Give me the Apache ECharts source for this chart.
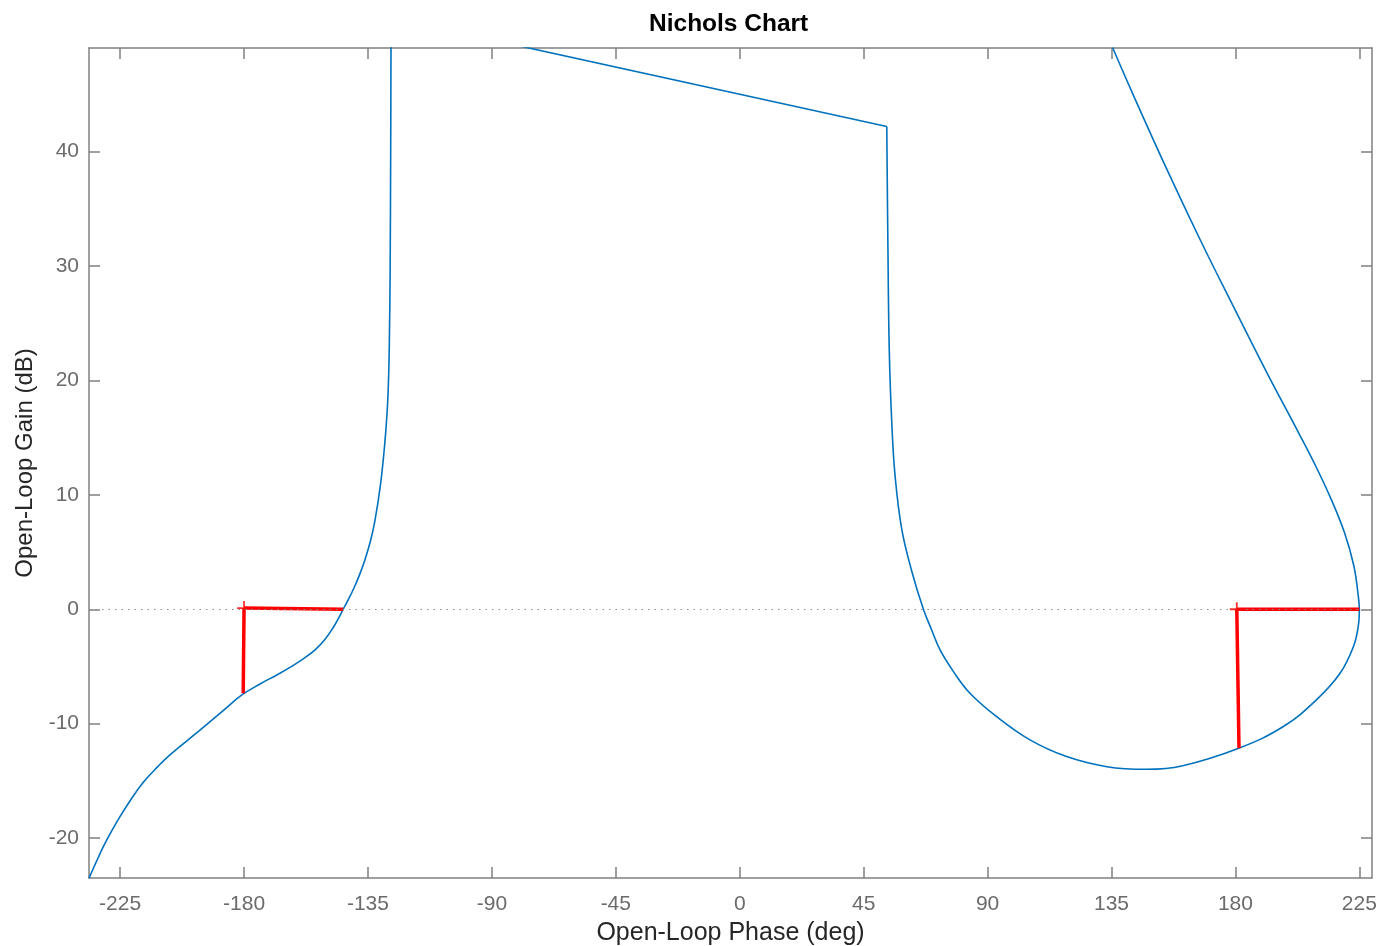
<!DOCTYPE html>
<html>
<head>
<meta charset="utf-8">
<title>Nichols Chart</title>
<script src="https://cdn.jsdelivr.net/npm/echarts@6/dist/echarts.min.js"></script>
<style>
  html, body { margin: 0; padding: 0; background: #fff; }
  #chart { width: 1390px; height: 946px; }
</style>
</head>
<body>
<div id="chart"></div>
<script>
  // [phase (deg), gain (dB)]
  var leftBranch = [
    [-236.3, -23.5], [-233.5, -22.0], [-231.1, -20.75], [-228, -19.35], [-225, -18.1],
    [-221, -16.6], [-216.5, -15.1], [-211.5, -13.8], [-206.8, -12.7], [-195.9, -10.55],
    [-188, -8.95], [-180.8, -7.49], [-174.2, -6.53], [-168.1, -5.74], [-162.1, -4.9],
    [-158, -4.25], [-154, -3.5], [-150.5, -2.6], [-147.5, -1.55], [-145.5, -0.7],
    [-144, 0], [-142, 0.9], [-140, 1.9], [-138, 3.05], [-136, 4.4],
    [-134, 6.05], [-132.5, 7.7], [-130.5, 10.8], [-129, 14.2], [-128, 17.4],
    [-127.5, 20.3], [-127.2, 23.9], [-126.95, 29.5], [-126.75, 40], [-126.6, 51.7]
  ];
  var crossLink = [[-126.6, 51.7], [53.4, 42.2]];
  var rightLoop = [
    [53.4, 42.2], [53.8, 32.0], [54.3, 22.7], [55.2, 16.4], [56.4, 11.7],
    [58.8, 7.05], [62.5, 3.3], [66.7, 0], [69.7, -1.81], [72.75, -3.56],
    [77.6, -5.45], [83.6, -7.34], [93.3, -9.39], [105.4, -11.42], [118.7, -12.88],
    [133.3, -13.76], [147.8, -13.99], [160.5, -13.7], [181.2, -12.15], [197.4, -10.25],
    [209.5, -7.9], [218.0, -5.6], [222.8, -3.3], [224.6, -1.5], [225.0, 0],
    [224.6, 1.2], [223.0, 3.8], [219.6, 6.7], [214.8, 9.6], [209.2, 12.5],
    [202.9, 15.45], [191.6, 20.6], [179.3, 26.45], [167.2, 32.3], [155.2, 38.4],
    [143.0, 44.9], [135.4, 49.1]
  ];
  var gainMarginA = [[-180, 0.1], [-180.3, -7.35]];
  var phaseMarginA = [[-180, 0.1], [-144, 0]];
  var gainMarginB = [[180.5, 0], [181.3, -12.15]];
  var phaseMarginB = [[180.5, 0], [225, 0]];
  var marginCrosses = [[-180, 0.1], [180.5, 0]];

  var phaseTicks = [-225, -180, -135, -90, -45, 0, 45, 90, 135, 180, 225];
  var gainTicks = [-20, -10, 0, 10, 20, 30, 40];
  var phaseMin = -236.3, phaseMax = 229.6;
  var gainMin = -23.49, gainMax = 49.06;

  var axisGrey = '#808080';
  var labelGrey = '#6b6b6b';
  var fontName = '"Liberation Sans", Arial, Helvetica, sans-serif';

  var myChart = echarts.init(document.getElementById('chart'));

  function xAxisOf(pos, showLabels) {
    return {
      type: 'value', position: pos, min: phaseMin, max: phaseMax,
      name: showLabels ? 'Open-Loop Phase (deg)' : '',
      nameLocation: 'middle', nameGap: 43,
      nameTextStyle: { fontSize: 25, color: '#262626', fontFamily: fontName },
      axisLine: { show: true, onZero: false, lineStyle: { color: axisGrey, width: 1.5 } },
      axisTick: { show: true, inside: true, length: 11, customValues: phaseTicks, lineStyle: { color: axisGrey, width: 1.5 } },
      axisLabel: { show: showLabels, customValues: phaseTicks, margin: 16, fontSize: 21, color: labelGrey, fontFamily: fontName },
      splitLine: { show: false }
    };
  }
  function yAxisOf(pos, showLabels) {
    return {
      type: 'value', position: pos, min: gainMin, max: gainMax,
      name: showLabels ? 'Open-Loop Gain (dB)' : '',
      nameLocation: 'middle', nameGap: 52,
      nameTextStyle: { fontSize: 24, color: '#262626', fontFamily: fontName },
      axisLine: { show: true, onZero: false, lineStyle: { color: axisGrey, width: 1.5 } },
      axisTick: { show: true, inside: true, length: 11, customValues: gainTicks, lineStyle: { color: axisGrey, width: 1.5 } },
      axisLabel: { show: showLabels, customValues: gainTicks, margin: 10, fontSize: 21, color: labelGrey, fontFamily: fontName },
      splitLine: { show: false }
    };
  }

  var blue = { color: '#0072BD', width: 1.6 };
  var red = { color: '#FF0000', width: 3.5 };

  function curve(data, smooth) {
    return {
      type: 'line', data: data, symbol: 'none', smooth: smooth, clip: true,
      lineStyle: blue, itemStyle: { color: blue.color }, z: 3
    };
  }
  function margin(data) {
    return {
      type: 'line', data: data, symbol: 'none', clip: true,
      lineStyle: red, itemStyle: { color: red.color }, z: 4
    };
  }

  var option = {
    backgroundColor: '#ffffff',
    animation: false,
    title: {
      text: 'Nichols Chart', left: 644, top: 7,
      textStyle: { fontSize: 24.5, fontWeight: 'bold', color: '#000', fontFamily: fontName }
    },
    grid: { left: 89, right: 18, top: 48, bottom: 68, containLabel: false, outerBoundsMode: 'none' },
    xAxis: [xAxisOf('bottom', true), xAxisOf('top', false)],
    yAxis: [yAxisOf('left', true), yAxisOf('right', false)],
    series: [
      {
        type: 'line', data: [], symbol: 'none', silent: true,
        markLine: {
          silent: true, symbol: ['none', 'none'], label: { show: false },
          lineStyle: { color: '#8c8c8c', width: 1, type: [1.5, 5] },
          data: [{ yAxis: 0 }]
        },
        z: 1
      },
      curve(leftBranch, 0.4),
      curve(crossLink, false),
      curve(rightLoop, 0.4),
      margin(gainMarginA),
      margin(phaseMarginA),
      margin(gainMarginB),
      margin(phaseMarginB),
      {
        type: 'scatter', data: marginCrosses,
        symbol: 'path://M0,7H14M7,0V14', symbolSize: 14,
        itemStyle: { color: 'none', borderColor: '#FF0000', borderWidth: 1.8 },
        z: 5
      }
    ]
  };
  myChart.setOption(option);
</script>
</body>
</html>
